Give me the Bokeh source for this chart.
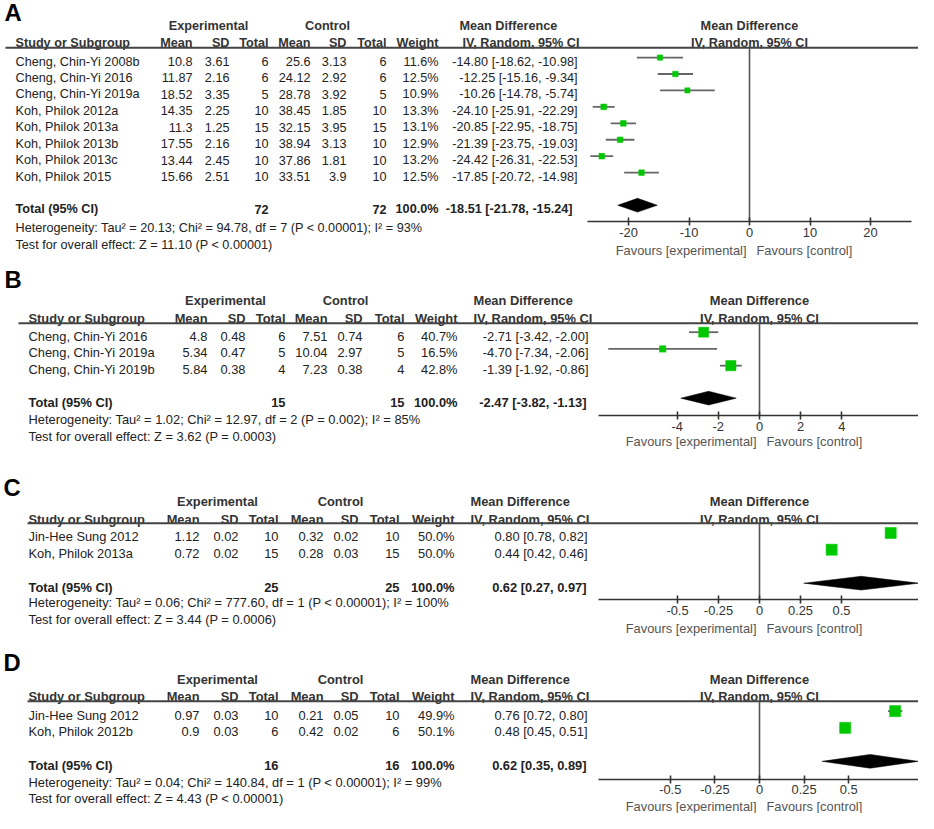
import math
from bokeh.plotting import figure
from bokeh.models import Range1d, LinearAxis, FixedTicker, CustomJSTickFormatter
from bokeh.core.properties import value
from bokeh.embed import file_html
from bokeh.resources import INLINE

W, H = 918, 813
X_SPAN, Y_SPAN = 918, 826
F = 0.99
FONT = "Liberation Sans"

# ---------------- data ----------------
A_study = ["Cheng, Chin-Yi 2008b", "Cheng, Chin-Yi 2016", "Cheng, Chin-Yi 2019a", "Koh, Philok 2012a",
           "Koh, Philok 2013a", "Koh, Philok 2013b", "Koh, Philok 2013c", "Koh, Philok 2015"]
A_exp_mean = [10.8, 11.87, 18.52, 14.35, 11.3, 17.55, 13.44, 15.66]
A_exp_sd = [3.61, 2.16, 3.35, 2.25, 1.25, 2.16, 2.45, 2.51]
A_exp_n = [6, 6, 5, 10, 15, 10, 10, 10]
A_ctl_mean = [25.6, 24.12, 28.78, 38.45, 32.15, 38.94, 37.86, 33.51]
A_ctl_sd = [3.13, 2.92, 3.92, 1.85, 3.95, 3.13, 1.81, 3.9]
A_ctl_n = [6, 6, 5, 10, 15, 10, 10, 10]
A_weight = [11.6, 12.5, 10.9, 13.3, 13.1, 12.9, 13.2, 12.5]
A_md = [-14.80, -12.25, -10.26, -24.10, -20.85, -21.39, -24.42, -17.85]
A_lo = [-18.62, -15.16, -14.78, -25.91, -22.95, -23.75, -26.31, -20.72]
A_hi = [-10.98, -9.34, -5.74, -22.29, -18.75, -19.03, -22.53, -14.98]
A_total = [-18.51, -21.78, -15.24]
A_total_n = [72, 72]
A_het = ["Heterogeneity: Tau\u00b2 = 20.13; Chi\u00b2 = 94.78, df = 7 (P < 0.00001); I\u00b2 = 93%",
         "Test for overall effect: Z = 11.10 (P < 0.00001)"]
A_ticks = [-20, -10, 0, 10, 20]

B_study = ["Cheng, Chin-Yi 2016", "Cheng, Chin-Yi 2019a", "Cheng, Chin-Yi 2019b"]
B_exp_mean = [4.8, 5.34, 5.84]
B_exp_sd = [0.48, 0.47, 0.38]
B_exp_n = [6, 5, 4]
B_ctl_mean = [7.51, 10.04, 7.23]
B_ctl_sd = [0.74, 2.97, 0.38]
B_ctl_n = [6, 5, 4]
B_weight = [40.7, 16.5, 42.8]
B_md = [-2.71, -4.70, -1.39]
B_lo = [-3.42, -7.34, -1.92]
B_hi = [-2.00, -2.06, -0.86]
B_total = [-2.47, -3.82, -1.13]
B_total_n = [15, 15]
B_het = ["Heterogeneity: Tau\u00b2 = 1.02; Chi\u00b2 = 12.97, df = 2 (P = 0.002); I\u00b2 = 85%",
         "Test for overall effect: Z = 3.62 (P = 0.0003)"]
B_ticks = [-4, -2, 0, 2, 4]

C_study = ["Jin-Hee Sung 2012", "Koh, Philok 2013a"]
C_exp_mean = [1.12, 0.72]
C_exp_sd = [0.02, 0.02]
C_exp_n = [10, 15]
C_ctl_mean = [0.32, 0.28]
C_ctl_sd = [0.02, 0.03]
C_ctl_n = [10, 15]
C_weight = [50.0, 50.0]
C_md = [0.80, 0.44]
C_lo = [0.78, 0.42]
C_hi = [0.82, 0.46]
C_total = [0.62, 0.27, 0.97]
C_total_n = [25, 25]
C_het = ["Heterogeneity: Tau\u00b2 = 0.06; Chi\u00b2 = 777.60, df = 1 (P < 0.00001); I\u00b2 = 100%",
         "Test for overall effect: Z = 3.44 (P = 0.0006)"]
C_ticks = [-0.5, -0.25, 0, 0.25, 0.5]

D_study = ["Jin-Hee Sung 2012", "Koh, Philok 2012b"]
D_exp_mean = [0.97, 0.9]
D_exp_sd = [0.03, 0.03]
D_exp_n = [10, 6]
D_ctl_mean = [0.21, 0.42]
D_ctl_sd = [0.05, 0.02]
D_ctl_n = [10, 6]
D_weight = [49.9, 50.1]
D_md = [0.76, 0.48]
D_lo = [0.72, 0.45]
D_hi = [0.80, 0.51]
D_total = [0.62, 0.35, 0.89]
D_total_n = [16, 16]
D_het = ["Heterogeneity: Tau\u00b2 = 0.04; Chi\u00b2 = 140.84, df = 1 (P < 0.00001); I\u00b2 = 99%",
         "Test for overall effect: Z = 4.43 (P < 0.00001)"]
D_ticks = [-0.5, -0.25, 0, 0.25, 0.5]

# ---------------- layout (reference pixel coordinates) ----------------
panels = [
    dict(name="A", study=A_study, em=A_exp_mean, esd=A_exp_sd, en=A_exp_n, cm=A_ctl_mean, csd=A_ctl_sd,
         cn=A_ctl_n, w=A_weight, md=A_md, lo=A_lo, hi=A_hi, tot=A_total, totn=A_total_n, het=A_het, ticks=A_ticks,
         fs=12.8, letter=(4, 12), h1=26, h2=43, line=48, line_x=(5, 934), y0=62, dy=16.7, ty=212, het_y=(231, 248),
         axis_y=225, fav_y=254, cx=dict(study=15, em=192, esd=229, en=268, cm=310, csd=346, cn=386, w=438,
         ci=577, cit=572, mdh=459, mdh2=462, expc=208, ctlc=327), zero=749, scale=6.05, bound=26.8),
    dict(name="B", study=B_study, em=B_exp_mean, esd=B_exp_sd, en=B_exp_n, cm=B_ctl_mean, csd=B_ctl_sd,
         cn=B_ctl_n, w=B_weight, md=B_md, lo=B_lo, hi=B_hi, tot=B_total, totn=B_total_n, het=B_het, ticks=B_ticks,
         fs=13, letter=(4, 283), h1=305, h2=323, line=328, line_x=(18, 934), y0=341, dy=17, ty=408, het_y=(426, 443),
         axis_y=422, fav_y=448, cx=dict(study=28, em=207, esd=245, en=285, cm=327, csd=362, cn=404, w=457,
         ci=588, cit=586, mdh=473, mdh2=473, expc=225, ctlc=345), zero=759, scale=20.6, bound=7.8),
    dict(name="C", study=C_study, em=C_exp_mean, esd=C_exp_sd, en=C_exp_n, cm=C_ctl_mean, csd=C_ctl_sd,
         cn=C_ctl_n, w=C_weight, md=C_md, lo=C_lo, hi=C_hi, tot=C_total, totn=C_total_n, het=C_het, ticks=C_ticks,
         fs=13, letter=(3, 495), h1=509, h2=527, line=531, line_x=(27, 934), y0=545, dy=17, ty=596, het_y=(612, 629),
         axis_y=609, fav_y=638, cx=dict(study=28, em=199, esd=238, en=278, cm=323, csd=358, cn=399, w=454,
         ci=587, cit=586, mdh=470, mdh2=470, expc=217, ctlc=340), zero=759, scale=164, bound=0.98),
    dict(name="D", study=D_study, em=D_exp_mean, esd=D_exp_sd, en=D_exp_n, cm=D_ctl_mean, csd=D_ctl_sd,
         cn=D_ctl_n, w=D_weight, md=D_md, lo=D_lo, hi=D_hi, tot=D_total, totn=D_total_n, het=D_het, ticks=D_ticks,
         fs=13, letter=(3, 673), h1=690, h2=707, line=712, line_x=(27, 934), y0=726, dy=17, ty=777, het_y=(794, 811),
         axis_y=791, fav_y=819, cx=dict(study=28, em=199, esd=238, en=278, cm=323, csd=358, cn=399, w=454,
         ci=587, cit=586, mdh=470, mdh2=470, expc=217, ctlc=340), zero=759, scale=178.5, bound=0.9),
]

TXT = "#222222"
HDR = "#333333"
GREEN = "#00c800"
LINE = "#555555"

p = figure(width=W, height=H, x_range=Range1d(0, X_SPAN), y_range=Range1d(Y_SPAN, 0),
           output_backend="svg", toolbar_location=None, x_axis_type=None, y_axis_type=None,
           min_border=0, outline_line_color=None, background_fill_color="white")
p.grid.visible = False


def fmt(v):
    return f"{v:g}"


def txt(xs, ys, texts, size, align="left", bold=False, color=TXT, rng="default", xoff=0):
    p.text(x=xs, y=ys, text=texts, text_align=align, text_baseline="middle",
           text_font=value(FONT), text_font_size=value(f"{size * F:.2f}px"),
           text_font_style="bold" if bold else "normal", text_color=color,
           x_range_name=rng, x_offset=xoff)


for pn in panels:
    rng = "md" + pn["name"]
    z, s = pn["zero"], pn["scale"]
    p.extra_x_ranges[rng] = Range1d(start=(0 - z) / s, end=(X_SPAN - z) / s)
    cx, fs = pn["cx"], pn["fs"]
    n = len(pn["study"])
    ys = [pn["y0"] + i * pn["dy"] for i in range(n)]
    my = [y - 4 for y in ys]

    # panel letter
    txt([pn["letter"][0]], [pn["letter"][1]], [pn["name"]], 24, bold=True, color="#000000")

    # header row 1
    txt([cx["expc"]], [pn["h1"]], ["Experimental"], fs, align="center", bold=True, color=HDR)
    txt([cx["ctlc"]], [pn["h1"]], ["Control"], fs, align="center", bold=True, color=HDR)
    txt([cx["mdh"]], [pn["h1"]], ["Mean Difference"], fs, bold=True, color=HDR)
    txt([0], [pn["h1"]], ["Mean Difference"], fs, align="center", bold=True, color=HDR, rng=rng)
    # header row 2
    txt([cx["study"]], [pn["h2"]], ["Study or Subgroup"], fs, bold=True, color=HDR)
    txt([cx["em"], cx["esd"], cx["en"], cx["cm"], cx["csd"], cx["cn"], cx["w"]], [pn["h2"]] * 7,
        ["Mean", "SD", "Total", "Mean", "SD", "Total", "Weight"], fs, align="right", bold=True, color=HDR)
    txt([cx["mdh2"]], [pn["h2"]], ["IV, Random, 95% CI"], fs, bold=True, color=HDR)
    txt([0], [pn["h2"]], ["IV, Random, 95% CI"], fs, align="center", bold=True, color=HDR, rng=rng)

    # header rule
    p.segment(x0=[pn["line_x"][0]], x1=[pn["line_x"][1]], y0=[pn["line"]], y1=[pn["line"]],
              line_color="#444444", line_width=2)

    # study rows
    txt([cx["study"]] * n, ys, pn["study"], fs)
    txt([cx["em"]] * n, ys, [fmt(v) for v in pn["em"]], fs, align="right")
    txt([cx["esd"]] * n, ys, [fmt(v) for v in pn["esd"]], fs, align="right")
    txt([cx["en"]] * n, ys, [str(v) for v in pn["en"]], fs, align="right")
    txt([cx["cm"]] * n, ys, [fmt(v) for v in pn["cm"]], fs, align="right")
    txt([cx["csd"]] * n, ys, [fmt(v) for v in pn["csd"]], fs, align="right")
    txt([cx["cn"]] * n, ys, [str(v) for v in pn["cn"]], fs, align="right")
    txt([cx["w"]] * n, ys, [f"{v:.1f}%" for v in pn["w"]], fs, align="right")
    txt([cx["ci"]] * n, ys, [f"{m:.2f} [{l:.2f}, {h:.2f}]" for m, l, h in zip(pn["md"], pn["lo"], pn["hi"])],
        fs, align="right")

    # total row
    ty = pn["ty"]
    txt([cx["study"]], [ty], ["Total (95% CI)"], fs, bold=True)
    txt([cx["en"], cx["cn"], cx["w"]], [ty] * 3, [str(pn["totn"][0]), str(pn["totn"][1]), "100.0%"], fs,
        align="right", bold=True)
    te, tl, th = pn["tot"]
    txt([cx["cit"]], [ty], [f"{te:.2f} [{tl:.2f}, {th:.2f}]"], fs, align="right", bold=True)
    txt([cx["study"]] * 2, list(pn["het_y"]), pn["het"], fs)

    # zero line
    p.segment(x0=[0], x1=[0], y0=[pn["line"]], y1=[pn["axis_y"]], line_color=LINE, line_width=1.6,
              x_range_name=rng)
    # CI whiskers and squares
    p.segment(x0=pn["lo"], x1=pn["hi"], y0=my, y1=my, line_color="#666666", line_width=1.8, x_range_name=rng)
    p.scatter(x=pn["md"], y=my, marker="square", size=[1.57 * math.sqrt(w) for w in pn["w"]],
              fill_color=GREEN, line_color=GREEN, line_width=0.5, x_range_name=rng)
    # diamond
    dy_ = ty - 4
    p.patch(x=[tl, te, th, te], y=[dy_, dy_ - 7, dy_, dy_ + 7], fill_color="black", line_color="black",
            line_width=0.5, x_range_name=rng)

    # axis
    ax = LinearAxis(x_range_name=rng, fixed_location=pn["axis_y"], bounds=(-pn["bound"], pn["bound"]),
                    ticker=FixedTicker(ticks=pn["ticks"], minor_ticks=[]),
                    formatter=CustomJSTickFormatter(code="return String(tick)"))
    ax.axis_line_color = "#333333"
    ax.axis_line_width = 1.6
    ax.major_tick_line_color = "#333333"
    ax.major_tick_line_width = 1.6
    ax.major_tick_in = 4
    ax.major_tick_out = 4
    ax.minor_tick_in = 0
    ax.minor_tick_out = 0
    ax.major_label_standoff = 2
    ax.major_label_text_font = FONT
    ax.major_label_text_font_size = f"{13 * F:.2f}px"
    ax.major_label_text_color = "#333333"
    p.add_layout(ax, "below")

    # favours labels
    txt([0], [pn["fav_y"]], ["Favours [experimental]"], 13, align="right", color="#555555", rng=rng, xoff=-3)
    txt([0], [pn["fav_y"]], ["Favours [control]"], 13, align="left", color="#555555", rng=rng, xoff=7)

open("out.html", "w").write(file_html(p, INLINE))
